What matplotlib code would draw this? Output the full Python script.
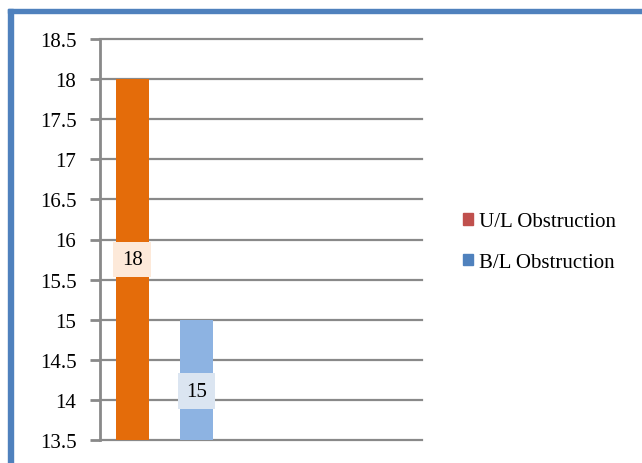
import matplotlib.pyplot as plt
from matplotlib.patches import Rectangle

categories = ["U/L Obstruction", "B/L Obstruction"]
values = [18, 15]
bar_colors = ["#e46c0a", "#8db3e2"]
legend_colors = ["#c0504d", "#4f81bd"]
label_fills = ["#fde9d9", "#dbe5f1"]
label_y = [15.75, 14.11]
y_ticks = [13.5, 14, 14.5, 15, 15.5, 16, 16.5, 17, 17.5, 18, 18.5]

plt.rcParams["font.family"] = ["Liberation Serif", "DejaVu Serif"]

W, H = 642, 464
fig = plt.figure(figsize=(W / 100, H / 100), dpi=100)
fig.patch.set_facecolor("white")

# frame lines along the top and left edge
fig.patches.append(Rectangle((8 / W, 1 - 14 / H), 1 - 8 / W, 4 / H,
                             transform=fig.transFigure, color="#4f81bd", zorder=5))
fig.patches.append(Rectangle((8 / W, 0), 5 / W, 1 - 10 / H,
                             transform=fig.transFigure, color="#4f81bd", zorder=5))

ax = fig.add_axes([100 / W, 1 - 441 / H, 322 / W, 401 / H])
grid_c = "#898989"

xs = list(range(len(values)))
bars = ax.bar(xs, [v - y_ticks[0] for v in values], bottom=y_ticks[0],
              width=0.51, color=bar_colors, zorder=3)

for x, v, ly, fc in zip(xs, values, label_y, label_fills):
    ax.text(x, ly, str(v), ha="center", va="center", fontsize=15, zorder=4,
            bbox=dict(boxstyle="square,pad=0.4", fc=fc, ec="none"))

ax.set_xlim(-0.5, 4.5)
ax.set_ylim(y_ticks[0], y_ticks[-1])
ax.set_yticks(y_ticks)
ax.set_yticklabels([f"{t:g}" for t in y_ticks], fontsize=15)
ax.set_xticks([])
ax.tick_params(axis="y", length=7, width=2, color=grid_c, pad=10)

for side in ["top", "right", "bottom"]:
    ax.spines[side].set_visible(False)
ax.spines["left"].set_color(grid_c)
ax.spines["left"].set_linewidth(2)

ax.grid(axis="y", color=grid_c, linewidth=1.6, zorder=1)
for gl in ax.get_ygridlines():
    gl.set_clip_on(False)
ax.set_axisbelow(True)

handles = [Rectangle((0, 0), 1, 1, color=c) for c in legend_colors]
fig.legend(handles, categories, loc="center left",
           bbox_to_anchor=(444 / W, 1 - 243 / H), frameon=False,
           fontsize=15, handlelength=0.5, handleheight=0.5,
           handletextpad=0.3, labelspacing=1.05)

fig.savefig("out.png", dpi=100)
